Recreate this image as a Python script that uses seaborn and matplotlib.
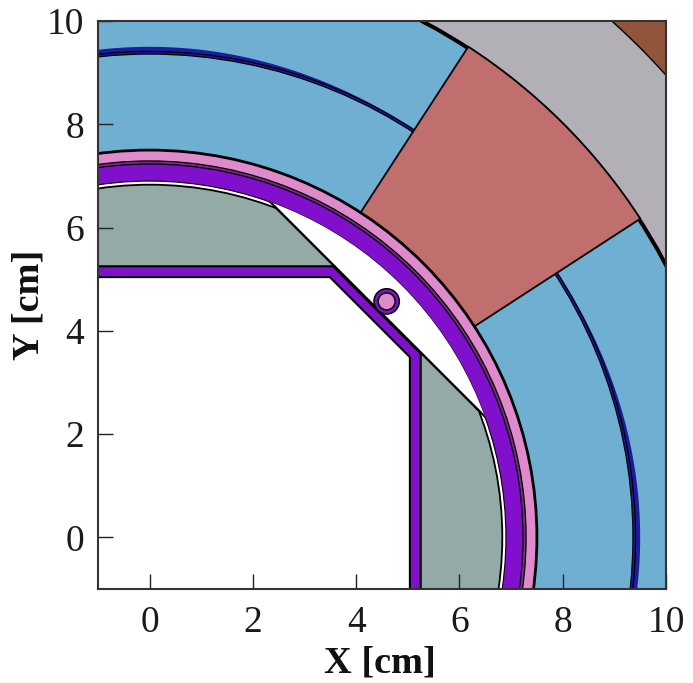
import numpy as np
import matplotlib
matplotlib.use("Agg")
import matplotlib.pyplot as plt
import pandas as pd
import seaborn as sns
from matplotlib.patches import Circle, Wedge, Polygon

# geometry (cm)
R_BROWN_IN = 13.42
R_COIL_OUT = 11.33
R_SHELL_OUT = 9.41
R_SHELL_IN = 9.36
R_PINK_OUT = 7.50
R_PINK_IN = 7.29
R_LINER_OUT = 7.23
R_PURPLE_IN = 6.90
R_GREY_OUT = 6.83
WEDGE_DEG = [33.0, 57.0]
CHORD_X = [2.42, 6.41]
CHORD_Y = [6.41, 2.42]
OCT_OUT_X = [5.25, 5.25, 3.55, -1.5]
OCT_OUT_Y = [-1.5, 3.56, 5.25, 5.25]
OCT_IN_X = [5.04, 5.04, 3.49, -1.5]
OCT_IN_Y = [-1.5, 3.49, 5.04, 5.04]
PIN_XY = [4.59, 4.57]
PIN_R = [0.245, 0.165]
TICKS = [0, 2, 4, 6, 8, 10]

C_BROWN = "#90553B"
C_GREY = "#B3AFB6"
C_BLUE = "#6FB0D2"
C_RED = "#C16E6F"
C_NAVY = "#1C1C9C"
C_PINK = "#DF8ACB"
C_PURPLE = "#8110CC"
C_SAGE = "#93AAA6"

sns.set_theme(style="ticks")
plt.rcParams["font.family"] = ["Liberation Serif", "DejaVu Serif"]

fig = plt.figure(figsize=(6.93, 6.83), dpi=100)
ax = fig.add_axes([98 / 693, (683 - 589) / 683, 568 / 693, 568 / 683])
ax.set_facecolor(C_BROWN)
ax.set_xlim(-1, 10)
ax.set_ylim(-1, 10)


def disc(r, fc, lw=1.5, z=1):
    p = Circle((0, 0), r, fc=fc, ec="black", lw=lw, zorder=z)
    ax.add_patch(p)
    return p


disc(R_BROWN_IN, C_GREY, 1.0, 1)
disc(R_COIL_OUT, "black", 1.0, 2)
disc(R_COIL_OUT - 0.05, C_BLUE, 1.0, 3)
# stair-stepped navy fringe on the shell: widest along the axes
th = np.radians(np.arange(-10, 101, 0.5))
fringe = R_SHELL_OUT + 0.09 * np.abs(np.cos(2 * th)) ** 3
ax.add_patch(Polygon(np.c_[fringe * np.cos(th), fringe * np.sin(th)], fc=C_NAVY, ec="none", zorder=4))
disc(R_SHELL_OUT, C_NAVY, 0.9, 5)
disc(R_SHELL_IN, C_BLUE, 0.9, 6)
ax.add_patch(Wedge((0, 0), R_COIL_OUT, WEDGE_DEG[0], WEDGE_DEG[1], fc=C_RED, ec="black", lw=1.3, zorder=7))
disc(R_PINK_OUT, C_PINK, 2.0, 8)
disc(R_PINK_IN, "#7A2A8A", 0.9, 9)
disc(R_LINER_OUT, C_PURPLE, 0.9, 10)
disc(R_PURPLE_IN, "white", 0.8, 11)
disc(R_GREY_OUT, C_SAGE, 1.3, 12)

clip = Circle((0, 0), R_PURPLE_IN, transform=ax.transData)
seg_x = [CHORD_X[0] - 3, CHORD_X[1] + 3, 12, 12]
seg_y = [CHORD_Y[0] + 3, CHORD_Y[1] - 3, 3, 12]
seg = Polygon(np.c_[seg_x, seg_y], fc="white", ec="black", lw=1.5, zorder=13)
ax.add_patch(seg)
seg.set_clip_path(clip)

ax.add_patch(Polygon(np.c_[OCT_OUT_X + [-1.5], OCT_OUT_Y + [-1.5]], fc=C_PURPLE, ec="black", lw=1.5, zorder=14))
ax.add_patch(Polygon(np.c_[OCT_IN_X + [-1.5], OCT_IN_Y + [-1.5]], fc="white", ec="black", lw=1.5, zorder=15))

for r, fc, z in zip(PIN_R, [C_PURPLE, C_PINK], [17, 18]):
    ax.add_patch(Circle(PIN_XY, r, fc=fc, ec="black", lw=1.1, zorder=z))

# chord drawn through seaborn on top of the sage fill
chord = pd.DataFrame({"x": CHORD_X, "y": CHORD_Y})
sns.lineplot(data=chord, x="x", y="y", ax=ax, color="black", lw=1.5, sort=False, estimator=None, zorder=13.5)

ax.set_xticks(TICKS)
ax.set_yticks(TICKS)
ax.tick_params(direction="in", length=10.5, width=1.0, labelsize=27, color="#222222", labelcolor="#1a1a1a")
ax.tick_params(axis="x", pad=12)
ax.tick_params(axis="y", pad=10)
ax.xaxis.set_zorder(30)
ax.yaxis.set_zorder(30)
ax.set_xlabel("X [cm]", fontsize=27.5, fontweight="bold", color="#111111")
ax.set_ylabel("Y [cm]", fontsize=27.5, fontweight="bold", color="#111111")
ax.xaxis.set_label_coords(0.497, -0.1)
ax.yaxis.set_label_coords(-0.09, 0.5)
for s in ax.spines.values():
    s.set_linewidth(1.5)
    s.set_color("#333333")
    s.set_zorder(31)
fig.savefig("out.png", dpi=100)
